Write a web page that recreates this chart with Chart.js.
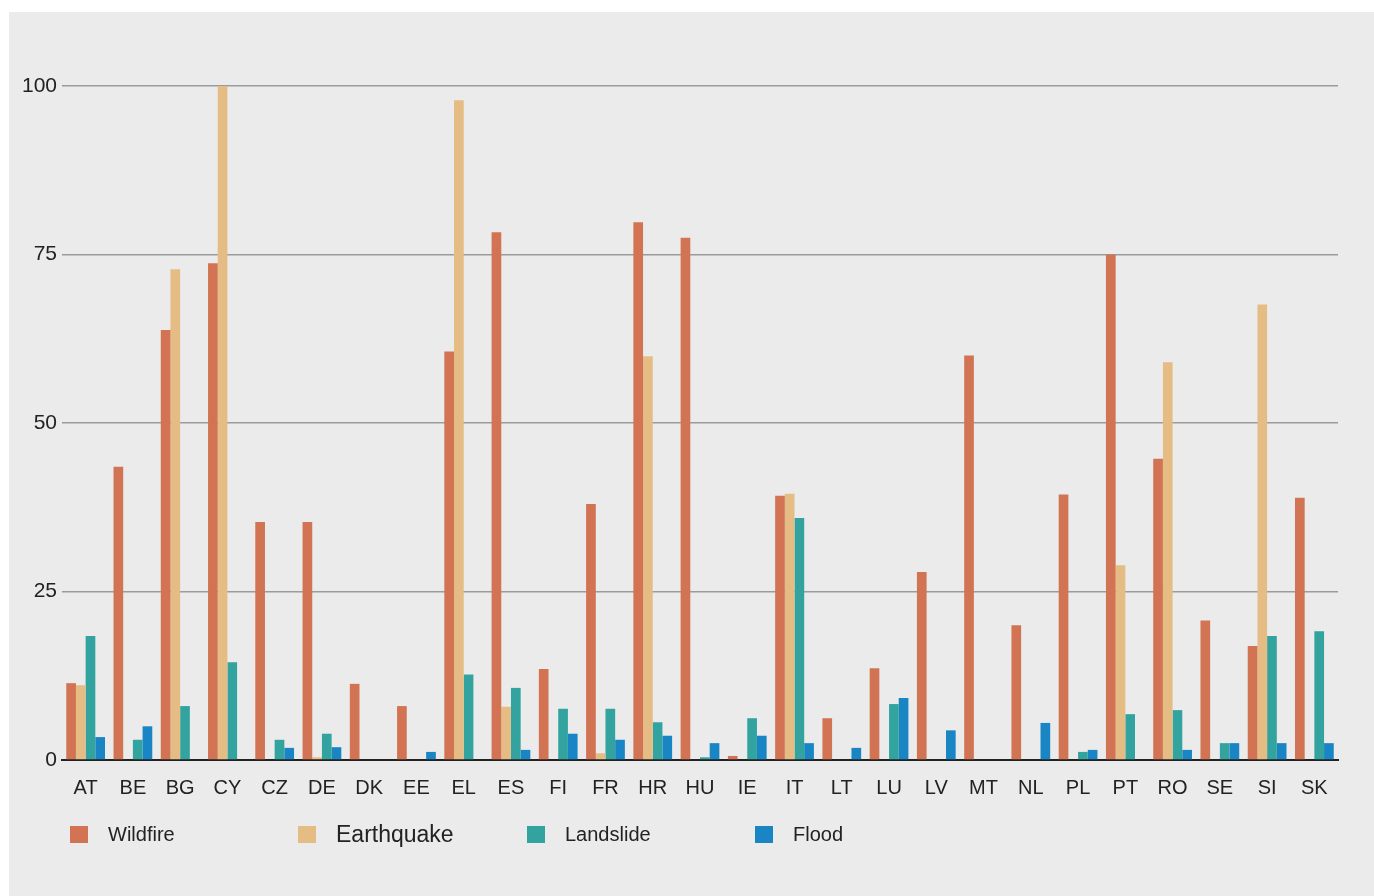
<!DOCTYPE html>
<html>
<head>
<meta charset="utf-8">
<script src="https://cdn.jsdelivr.net/npm/chart.js@4"></script>
<style>
    body { margin: 0; background: #fff; font-family: 'Liberation Sans', Arial, sans-serif; }
    #panel { position: absolute; left: 9px; top: 12px; width: 1365px; height: 884px; background: #ebebeb; }
    #chartBox { position: absolute; left: 0; top: 0; width: 1365px; height: 884px; }
    .legend-item { position: absolute; top: 802px; height: 40px; display: flex; align-items: center; color: #222; }
    .legend-item .box { width: 18px; height: 17px; margin-right: 20px; }
</style>
</head>
<body>
<div id="panel">
    <div id="chartBox"><canvas id="hazardChart"></canvas></div>
    <div id="legend"></div>
</div>
<script>
const countries = ['AT', 'BE', 'BG', 'CY', 'CZ', 'DE', 'DK', 'EE', 'EL', 'ES', 'FI', 'FR', 'HR', 'HU',
    'IE', 'IT', 'LT', 'LU', 'LV', 'MT', 'NL', 'PL', 'PT', 'RO', 'SE', 'SI', 'SK'];

const wildfire   = [11.4, 43.5, 63.8, 73.7, 35.3, 35.3, 11.3, 8.0, 60.6, 78.3, 13.5, 38.0, 79.8, 77.5,
    0.6, 39.2, 6.2, 13.6, 27.9, 60.0, 20.0, 39.4, 75.0, 44.7, 20.7, 16.9, 38.9];
const earthquake = [11.1, 0, 72.8, 100, 0, 0.4, 0, 0, 97.9, 7.9, 0, 1.0, 59.9, 0,
    0, 39.5, 0, 0, 0, 0, 0, 0, 28.9, 59.0, 0, 67.6, 0];
const landslide  = [18.4, 3.0, 8.0, 14.5, 3.0, 3.9, 0, 0, 12.7, 10.7, 7.6, 7.6, 5.6, 0.4,
    6.2, 35.9, 0, 8.3, 0, 0, 0, 1.2, 6.8, 7.4, 2.5, 18.4, 19.1];
const flood      = [3.4, 5.0, 0, 0, 1.8, 1.9, 0, 1.2, 0, 1.5, 3.9, 3.0, 3.6, 2.5,
    3.6, 2.5, 1.8, 9.2, 4.4, 0, 5.5, 1.5, 0, 1.5, 2.5, 2.5, 2.5];

const yTicks = [0, 25, 50, 75, 100];

const seriesNames = ['Wildfire', 'Earthquake', 'Landslide', 'Flood'];
const seriesColors = ['#d27454', '#e5bd84', '#32a39e', '#1985c5'];
const seriesValues = [wildfire, earthquake, landslide, flood];

const legendSlots = [
    { box: 61, size: 20 },
    { box: 289, size: 23 },
    { box: 518, size: 20 },
    { box: 746, size: 20 }
];

function buildLegend() {
    const legend = document.getElementById('legend');
    seriesNames.forEach((name, i) => {
        const item = document.createElement('div');
        item.className = 'legend-item';
        item.style.left = legendSlots[i].box + 'px';
        item.style.fontSize = legendSlots[i].size + 'px';
        const box = document.createElement('span');
        box.className = 'box';
        box.style.background = seriesColors[i];
        item.appendChild(box);
        item.appendChild(document.createTextNode(name));
        legend.appendChild(item);
    });
}

function initChart() {
    const ctx = document.getElementById('hazardChart').getContext('2d');
    new Chart(ctx, {
        type: 'bar',
        data: {
            labels: countries,
            datasets: seriesNames.map((name, i) => ({
                label: name,
                data: seriesValues[i],
                backgroundColor: seriesColors[i],
                borderWidth: 0,
                categoryPercentage: 0.82,
                barPercentage: 1.0
            }))
        },
        options: {
            responsive: true,
            maintainAspectRatio: false,
            animation: false,
            layout: {
                padding: { top: 74, right: 36, bottom: 0, left: 0 }
            },
            plugins: {
                legend: { display: false },
                tooltip: { enabled: false }
            },
            scales: {
                x: {
                    grid: { display: false },
                    border: { display: true, color: '#222', width: 2 },
                    ticks: {
                        color: '#222',
                        font: { family: "'Liberation Sans', Arial, sans-serif", size: 20 },
                        padding: 8,
                        maxRotation: 0,
                        autoSkip: false
                    },
                    afterFit: scale => { scale.height = 136; }
                },
                y: {
                    min: 0,
                    max: 100,
                    afterBuildTicks: scale => { scale.ticks = yTicks.map(v => ({ value: v })); },
                    grid: {
                        color: c => c.tick && c.tick.value === 0 ? '#222' : '#9b9b9b',
                        lineWidth: 1.5,
                        drawTicks: false
                    },
                    border: { display: false },
                    ticks: {
                        color: '#222',
                        font: { family: "'Liberation Sans', Arial, sans-serif", size: 21 },
                        padding: 5
                    },
                    afterFit: scale => { scale.width = 53; }
                }
            }
        }
    });
}

buildLegend();
initChart();
</script>
</body>
</html>
